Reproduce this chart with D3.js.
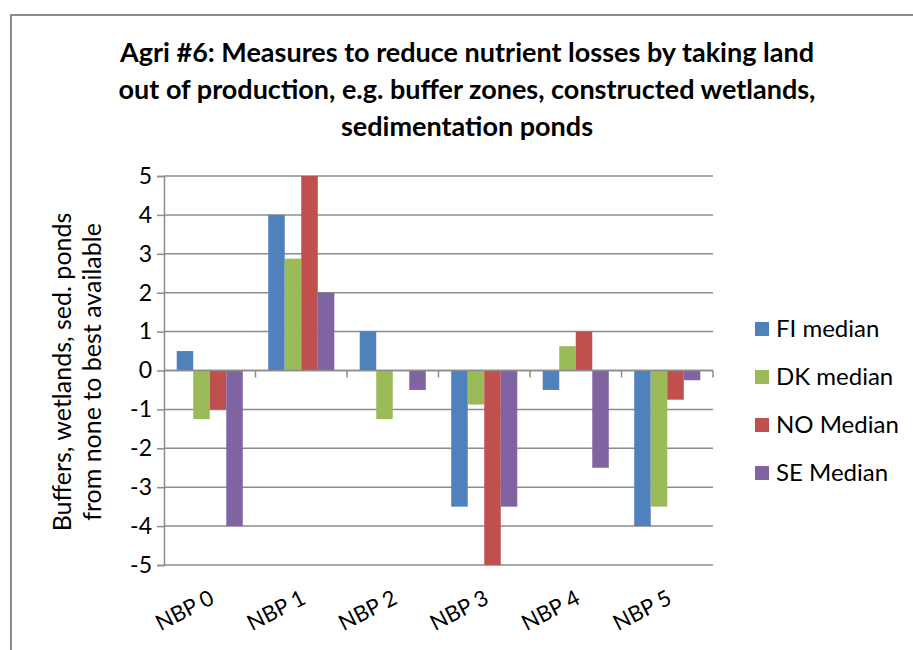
<!DOCTYPE html>
<html>
<head>
<meta charset="utf-8">
<script src="https://cdn.jsdelivr.net/npm/d3@7"></script>
<style>
  body { margin: 0; background: #fff; }
  #chart { width: 913px; height: 650px; }
  text { font-family: Lato, "Open Sans", sans-serif; fill: #000; }
</style>
</head>
<body>
<div id="chart"></div>
<script>
// chart data
const categories = ["NBP 0", "NBP 1", "NBP 2", "NBP 3", "NBP 4", "NBP 5"];
const seriesNames = ["FI median", "DK median", "NO Median", "SE Median"];
const fiMedian = [0.5, 4, 1, -3.5, -0.5, -4];
const dkMedian = [-1.25, 2.875, -1.25, -0.875, 0.625, -3.5];
const noMedian = [-1, 5, 0, -5, 1, -0.75];
const seMedian = [-4, 2, -0.5, -3.5, -2.5, -0.25];
const yTicks = [5, 4, 3, 2, 1, 0, -1, -2, -3, -4, -5];
const colors = ["#4f81bd", "#9bbb59", "#c0504d", "#8064a2"];

const titleLines = [
  "Agri #6: Measures to reduce nutrient losses by taking land",
  "out of production, e.g. buffer zones, constructed wetlands,",
  "sedimentation ponds"
];
const yLabelLines = ["Buffers, wetlands, sed. ponds", "from none to best available"];

const allSeries = [fiMedian, dkMedian, noMedian, seMedian];

const margin = { top: 176, right: 200, bottom: 85, left: 164 };
const W = 913, H = 650;
const width = W - margin.left - margin.right;
const height = H - margin.top - margin.bottom;

const root = d3.select("#chart").append("svg")
    .attr("width", W)
    .attr("height", H);

// outer chart border
root.append("rect")
    .attr("x", 11).attr("y", 15)
    .attr("width", 920).attr("height", 660)
    .attr("fill", "none")
    .attr("stroke", "#8c8c8c")
    .attr("stroke-width", 2);

// title
root.append("text")
    .attr("text-anchor", "middle")
    .attr("font-weight", "bold")
    .attr("font-size", 27)
    .selectAll("tspan")
    .data(titleLines)
    .enter()
    .append("tspan")
    .attr("x", 467)
    .attr("y", (d, i) => 62 + i * 37)
    .text(d => d);

const svg = root.append("g")
    .attr("transform", `translate(${margin.left},${margin.top})`);

const x0 = d3.scaleBand()
    .domain(categories)
    .range([0, width]);

const x1 = d3.scaleBand()
    .domain(seriesNames)
    .range([x0.bandwidth() * 0.139, x0.bandwidth() * 0.861]);

const y = d3.scaleLinear()
    .domain([-5, 5])
    .range([height, 0]);

// gridlines
svg.append("g")
    .selectAll("line")
    .data(yTicks)
    .enter()
    .append("line")
    .attr("x1", 0).attr("x2", width)
    .attr("y1", d => y(d)).attr("y2", d => y(d))
    .attr("stroke", "#8c8c8c")
    .attr("stroke-width", 1.5);

// y axis (plain hyphen for negatives, like the original)
const yAxis = svg.append("g")
    .call(d3.axisLeft(y).tickValues(yTicks).tickSize(7).tickPadding(5).tickFormat(d => String(d)));
yAxis.select(".domain").attr("stroke", "#8c8c8c").attr("stroke-width", 1.5);
yAxis.selectAll(".tick line").attr("stroke", "#8c8c8c").attr("stroke-width", 1.5);
yAxis.selectAll(".tick text")
    .attr("font-size", 23)
    .attr("font-family", "Lato, sans-serif")
    .attr("fill", "#000");

// bars
const groups = svg.append("g")
    .selectAll("g")
    .data(categories)
    .enter()
    .append("g")
    .attr("transform", d => `translate(${x0(d)},0)`);

groups.selectAll("rect")
    .data((c, ci) => allSeries.map((s, si) => ({ name: seriesNames[si], value: s[ci], color: colors[si] })))
    .enter()
    .append("rect")
    .attr("x", d => x1(d.name))
    .attr("width", x1.bandwidth())
    .attr("y", d => y(Math.max(0, d.value)))
    .attr("height", d => Math.abs(y(d.value) - y(0)))
    .attr("fill", d => d.color);

// x axis at zero with ticks between categories
const xAxisG = svg.append("g")
    .attr("transform", `translate(0,${y(0)})`);
xAxisG.append("line")
    .attr("x1", 0).attr("x2", width)
    .attr("stroke", "#8c8c8c").attr("stroke-width", 1.5);
xAxisG.selectAll(".sep")
    .data(categories)
    .enter()
    .append("line")
    .attr("x1", d => x0(d) + x0.bandwidth())
    .attr("x2", d => x0(d) + x0.bandwidth())
    .attr("y1", 0).attr("y2", 7)
    .attr("stroke", "#8c8c8c").attr("stroke-width", 1.5);

// category labels, rotated
svg.append("g")
    .selectAll("text")
    .data(categories)
    .enter()
    .append("text")
    .attr("font-size", 22)
    .attr("text-anchor", "end")
    .attr("transform", d => `translate(${x0(d) + x0.bandwidth() / 2 + 6},${height + 38}) rotate(-27)`)
    .text(d => d);

// y axis title
root.append("text")
    .attr("text-anchor", "middle")
    .attr("font-size", 25)
    .attr("transform", `translate(0,372) rotate(-90)`)
    .selectAll("tspan")
    .data(yLabelLines)
    .enter()
    .append("tspan")
    .attr("x", 0)
    .attr("y", (d, i) => 71 + i * 30)
    .text(d => d);

// legend
const legend = root.append("g")
    .selectAll("g")
    .data(seriesNames)
    .enter()
    .append("g")
    .attr("transform", (d, i) => `translate(755,${329 + i * 48})`);

legend.append("rect")
    .attr("x", 0).attr("y", -7)
    .attr("width", 14).attr("height", 14)
    .attr("fill", (d, i) => colors[i]);

legend.append("text")
    .attr("x", 21).attr("y", 8)
    .attr("font-size", 24)
    .text(d => d);
</script>
</body>
</html>
